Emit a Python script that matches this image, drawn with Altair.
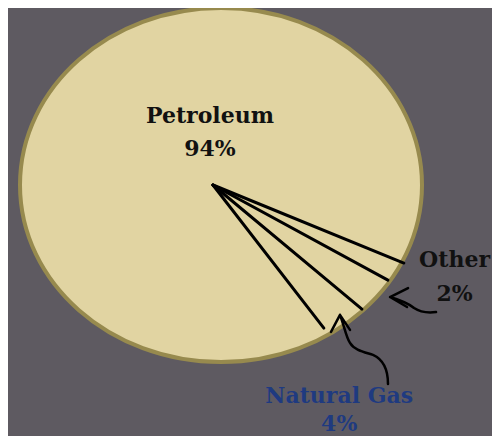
import altair as alt
import pandas as pd

# ---- data ----
categories = ["Petroleum", "Natural Gas", "Other"]
shares = [94, 4, 2]
label_colors = ["#111111", "#1f3a80", "#111111"]
# the hand-drawn separator lines: direction (deg) and relative length
line_angles = [-24.9, -31.7, -43.4, -55.7]
line_lengths = [1.047, 1.023, 1.020, 0.979]

# ---- layout ----
W, H = 484, 428
CX, CY, RX, RY = 213, 177, 201, 177          # ellipse centre / radii (px)
xdom = [-CX / RX, (W - CX) / RX]
ydom = [-(H - CY) / RY, CY / RY]
line_origin = (-0.04, 0.0)
# label anchors (unit coords): name line, percent line
label_pos = {
    "Petroleum": (-0.055, 0.350, 0.165),
    "Natural Gas": (0.588, -1.232, -1.390),
    "Other": (1.162, -0.463, -0.655),
}
arrow_tips = {"Other": (0.841, -0.633), "Natural Gas": (0.592, -0.734)}

X = lambda f: alt.X(f, type="quantitative", scale=alt.Scale(domain=xdom, nice=False, zero=False), axis=None)
Y = lambda f: alt.Y(f, type="quantitative", scale=alt.Scale(domain=ydom, nice=False, zero=False), axis=None)

# ellipse (whole pie, 100 %)
ellipse_path = f"M {-RX} 0 A {RX} {RY} 0 1 1 {RX} 0 A {RX} {RY} 0 1 1 {-RX} 0 Z"
pie_df = pd.DataFrame({"x": [0.0], "y": [0.0], "total": [sum(shares)]})
pie = alt.Chart(pie_df).mark_point(
    shape=ellipse_path, size=4, filled=True, fill="#e1d4a2", stroke="#978a4e",
    strokeWidth=4, opacity=1, fillOpacity=1, strokeOpacity=1
).encode(x=X("x"), y=Y("y"))

# separator lines
lines_df = pd.DataFrame({"angle": line_angles, "len": line_lengths})
lines = alt.Chart(lines_df).transform_calculate(
    x0=f"{line_origin[0]}", y0=f"{line_origin[1]}",
    x1=f"{line_origin[0]} + datum.len * cos(datum.angle * PI / 180)",
    y1=f"{line_origin[1]} + datum.len * sin(datum.angle * PI / 180)",
).mark_rule(color="#000000", strokeWidth=3, strokeCap="round").encode(
    x=X("x0"), y=Y("y0"), x2=alt.X2("x1"), y2=alt.Y2("y1")
)

# arrows (hand drawn)
arrow_shapes = {
    "Other": "M 18 -9 L 0 0 L 17 10 M 0 0 C 10 3 18 6 24 11 C 30 15 38 16 46 15",
    "Natural Gas": "M -9 17 L 0 0 L 10 15 M 0 0 C 4 10 6 22 10 28 C 14 35 24 37 33 40 C 44 45 48 55 48 69",
}
arrow_layers = []
for name, path in arrow_shapes.items():
    tx, ty = arrow_tips[name]
    adf = pd.DataFrame({"x": [tx], "y": [ty], "cat": [name]})
    arrow_layers.append(
        alt.Chart(adf).mark_point(
            shape=path, size=4, filled=False, stroke="#000000", strokeWidth=2.5,
            opacity=1, strokeCap="round", strokeJoin="round"
        ).encode(x=X("x"), y=Y("y"))
    )

# labels
rows = []
for cat, s, col in zip(categories, shares, label_colors):
    lx, ly1, ly2 = label_pos[cat]
    rows.append({"text": cat, "x": lx, "y": ly1, "color": col})
    rows.append({"text": f"{s}%", "x": lx, "y": ly2, "color": col})
labels = alt.Chart(pd.DataFrame(rows)).mark_text(
    font="DejaVu Serif", fontWeight="bold", fontSize=22, baseline="alphabetic", align="center"
).encode(x=X("x"), y=Y("y"), text="text:N", color=alt.Color("color:N", scale=None))

chart = alt.layer(pie, lines, *arrow_layers, labels).properties(
    width=W, height=H, padding=0, autosize=alt.AutoSizeParams(type="none"),
    background="#5e5a61",
).configure_view(stroke=None)

chart.save("out.html", embed_options={"renderer": "svg", "actions": False})
